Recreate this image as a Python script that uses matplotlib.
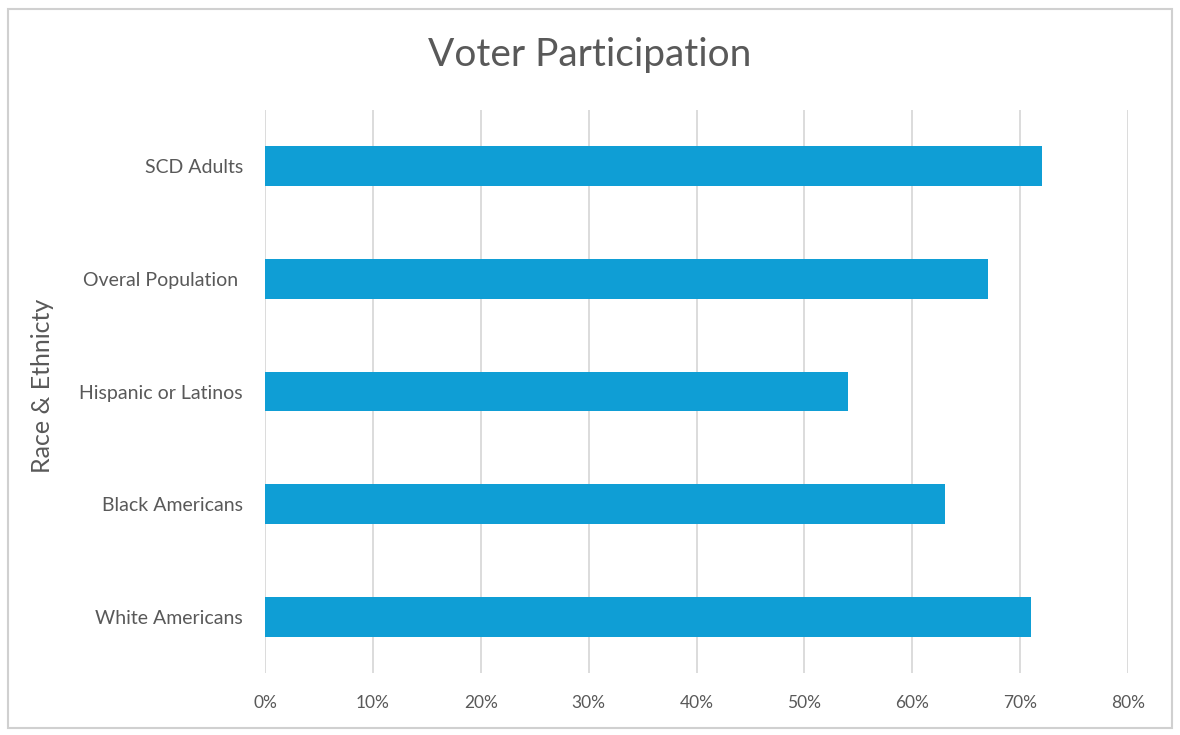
import matplotlib.pyplot as plt
from matplotlib.patches import Rectangle
from matplotlib.ticker import PercentFormatter

groups = ["White Americans", "Black Americans", "Hispanic or Latinos", "Overal Population ", "SCD Adults"]
participation = [0.71, 0.63, 0.54, 0.67, 0.72]
xticks = [0, 0.1, 0.2, 0.3, 0.4, 0.5, 0.6, 0.7, 0.8]

bar_color = "#0F9ED5"
text_color = "#595959"
grid_color = "#D9D9D9"
fam = ["Lato", "DejaVu Sans"]

fig = plt.figure(figsize=(11.8, 7.35), dpi=100)
ax = fig.add_axes([265 / 1180, 62 / 735, 863 / 1180, 563 / 735])

ax.barh(range(len(groups)), participation, height=0.355, color=bar_color, zorder=3)

ax.set_xlim(0, 0.8)
ax.set_ylim(-0.5, len(groups) - 0.5)
ax.set_xticks(xticks)
ax.xaxis.set_major_formatter(PercentFormatter(1.0, decimals=0))
ax.set_yticks(range(len(groups)))
ax.set_yticklabels(groups, family=fam, fontsize=14, color=text_color)
for lbl in ax.get_xticklabels():
    lbl.set_family(fam)
    lbl.set_fontsize(12.5)
    lbl.set_color(text_color)

ax.tick_params(axis="y", length=0, pad=16)
ax.tick_params(axis="x", length=0, pad=16)
ax.grid(axis="x", color=grid_color, linewidth=1.3, zorder=0)
for s in ax.spines.values():
    s.set_visible(False)

fig.text(0.5, 1 - 55 / 735, "Voter Participation", ha="center", va="center",
         fontsize=28, color=text_color, family=fam)
fig.text(43 / 1180, 1 - 386 / 735, "Race & Ethnicty", ha="center", va="center",
         rotation=90, fontsize=18, color=text_color, family=fam)

# outer chart border
fig.patches.append(Rectangle((8 / 1180, 7 / 735), 1164 / 1180, 719 / 735,
                             transform=fig.transFigure, fill=False,
                             edgecolor="#D0D0D0", linewidth=1.5))

fig.savefig("out.png", dpi=100)
